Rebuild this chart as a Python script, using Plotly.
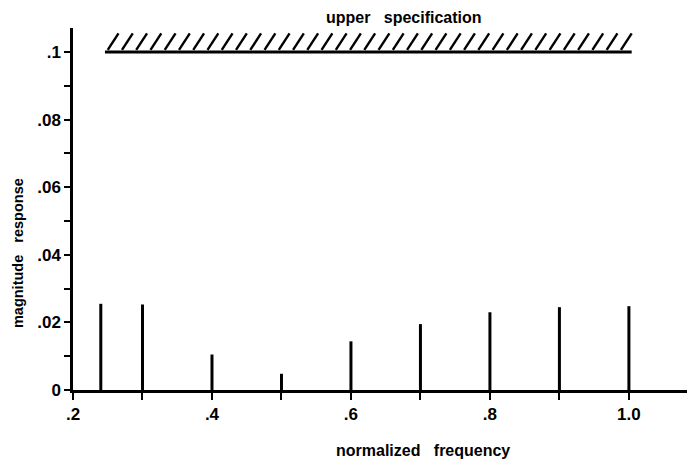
import numpy as np
import plotly.graph_objects as go

# Data
freqs = [0.24, 0.3, 0.4, 0.5, 0.6, 0.7, 0.8, 0.9, 1.0]
mags = [0.0255, 0.0253, 0.0105, 0.0048, 0.0144, 0.0195, 0.0230, 0.0245, 0.0248]
spec_level = 0.1
spec_start, spec_end = 0.246, 1.004
hatch_height = 0.0055
hatch_lean = 0.0155
n_hatch = 37

y_tickvals = [round(0.01 * i, 2) for i in range(11)]
y_ticktext = ["0", "", ".02", "", ".04", "", ".06", "", ".08", "", ".1"]
x_tickvals = [0.2, 0.3, 0.4, 0.5, 0.6, 0.7, 0.8, 0.9, 1.0]
x_ticktext = [".2", "", ".4", "", ".6", "", ".8", "", "1.0"]

FONT = "Liberation Sans"

fig = go.Figure()

# stems
sx, sy = [], []
for f, m in zip(freqs, mags):
    sx += [f, f, None]
    sy += [0, m, None]
fig.add_trace(go.Scatter(x=sx, y=sy, mode="lines", line=dict(color="black", width=3),
                         hoverinfo="skip", showlegend=False))

# specification line
fig.add_trace(go.Scatter(x=[spec_start, spec_end], y=[spec_level, spec_level], mode="lines",
                         line=dict(color="black", width=3), showlegend=False))

# hatching
hx, hy = [], []
xs = np.linspace(spec_start + 0.004, spec_end - hatch_lean, n_hatch)
for x0 in xs:
    hx += [x0, x0 + hatch_lean, None]
    hy += [spec_level + 0.0006, spec_level + hatch_height, None]
fig.add_trace(go.Scatter(x=hx, y=hy, mode="lines", line=dict(color="black", width=2.4),
                         showlegend=False, hoverinfo="skip"))

# y axis extends slightly below the x axis
fig.add_shape(type="line", xref="x", yref="y", x0=0.2, x1=0.2, y0=0, y1=-0.0025,
              line=dict(color="black", width=2.5))

fig.update_layout(
    width=687, height=464,
    margin=dict(l=73, r=0, t=28, b=74),
    paper_bgcolor="white", plot_bgcolor="white",
    font=dict(family=FONT, color="black"),
    xaxis=dict(range=[0.2, 1.0836], tickmode="array", tickvals=x_tickvals, ticktext=x_ticktext,
               showgrid=False, zeroline=False, showline=True, linecolor="black", linewidth=2.5,
               ticks="outside", ticklen=7, tickwidth=2, tickcolor="black",
               tickfont=dict(size=17, family=FONT, weight="bold")),
    yaxis=dict(range=[0, 0.1071], tickmode="array", tickvals=y_tickvals, ticktext=y_ticktext,
               showgrid=False, zeroline=False, showline=True, linecolor="black", linewidth=2.5,
               ticks="outside", ticklen=6, tickwidth=2, tickcolor="black",
               tickfont=dict(size=17, family=FONT, weight="bold")),
    annotations=[
        dict(text="upper&nbsp;&nbsp;&nbsp;specification", xref="paper", yref="paper", x=0.539, y=1.028,
             xanchor="center", yanchor="middle",
             showarrow=False, font=dict(size=16, family=FONT, weight="bold")),
        dict(text="normalized&nbsp;&nbsp;&nbsp;frequency", xref="paper", yref="paper", x=0.570, y=-0.166,
             xanchor="center", yanchor="middle",
             showarrow=False, font=dict(size=16, family=FONT, weight="bold")),
        dict(text="magnitude&nbsp;&nbsp;&nbsp;response", xref="paper", yref="paper", x=-0.0896, y=0.497,
             xanchor="center", yanchor="middle", yshift=-43,
             textangle=-90, showarrow=False, font=dict(size=14.5, family=FONT, weight="bold")),
    ],
)

fig.write_html("out.html")
